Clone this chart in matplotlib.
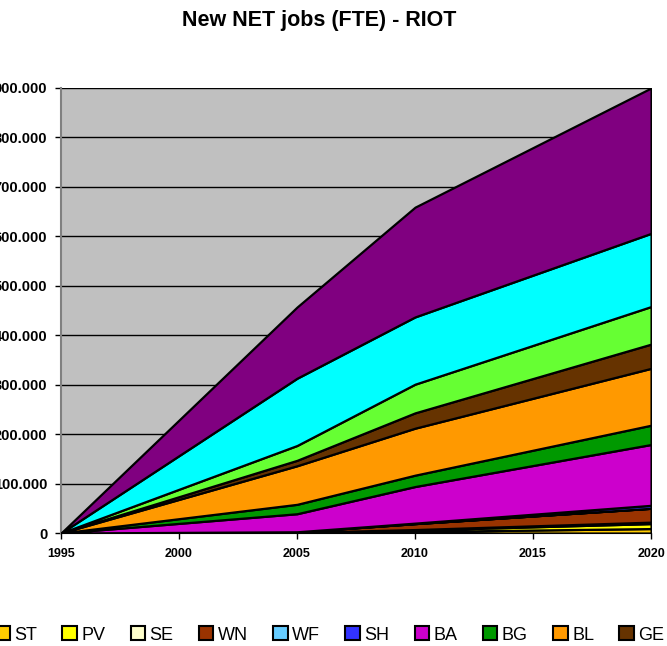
import matplotlib
matplotlib.use("Agg")
import matplotlib.pyplot as plt
from matplotlib.patches import Patch
from matplotlib.ticker import FuncFormatter

plt.rcParams['font.family'] = ['Liberation Sans', 'DejaVu Sans']

years = [1995, 2005, 2010, 2020]

# new net jobs per technology (FTE), stacked bottom -> top
names = ['ST', 'PV', 'SE', 'WN', 'WF', 'SH', 'BA', 'BG', 'BL', 'GE', 'TI', 'WA', 'HY']
ST = [0, 500, 3000, 9000]
PV = [0, 500, 3000, 10000]
SE = [0, 200, 1000, 3000]
WN = [0, 1000, 12000, 28000]
WF = [0, 0, 0, 0]
SH = [0, 300, 1000, 6000]
BA = [0, 36500, 74000, 123000]
BG = [0, 19000, 23000, 39000]
BL = [0, 78000, 95000, 115000]
GE = [0, 11000, 31000, 49000]
TI = [0, 30000, 58000, 76000]
WA = [0, 136000, 136000, 148000]
HY = [0, 144000, 222000, 294000]

colors = ['#FFCC00', '#FFFF00', '#FFFFCC', '#993300', '#66CCFF', '#3333FF',
          '#CC00CC', '#009900', '#FF9900', '#663300', '#66FF33', '#00FFFF', '#800080']

fig = plt.figure(figsize=(6.67, 6.46), dpi=100)
ax = fig.add_axes([0.0915, 0.1749, 0.8846, 0.6889])
ax.set_facecolor('#C0C0C0')

ax.stackplot(years, ST, PV, SE, WN, WF, SH, BA, BG, BL, GE, TI, WA, HY,
             colors=colors, edgecolor='black', linewidth=1.6, zorder=3)

ax.set_xlim(1995, 2020)
ax.set_ylim(0, 900000)
ax.set_xticks(range(1995, 2021, 5))
ax.set_yticks(range(0, 900001, 100000))
ax.yaxis.set_major_formatter(FuncFormatter(lambda v, p: f'{int(v):,}'.replace(',', '.')))
ax.grid(axis='y', color='black', linewidth=1, zorder=1)
ax.set_axisbelow(True)

for lab in ax.get_xticklabels():
    lab.set_fontweight('bold')
    lab.set_fontsize(9)
for lab in ax.get_yticklabels():
    lab.set_fontweight('bold')
    lab.set_fontsize(10.5)
ax.tick_params(axis='both', direction='out', length=4, width=1, color='black')
ax.tick_params(axis='y', pad=6)
ax.tick_params(axis='x', pad=7)

ax.spines['top'].set_visible(False)
ax.spines['right'].set_visible(False)
ax.spines['left'].set_color('#808080')
ax.spines['left'].set_linewidth(1.5)
ax.spines['bottom'].set_color('black')

fig.text(0.478, 0.969, 'New NET jobs (FTE) - RIOT', ha='center', va='center',
         fontsize=15.5, fontweight='bold')

handles = [Patch(facecolor=c, edgecolor='black', linewidth=1.5) for c in colors]
fig.legend(handles, names, ncol=13, loc='center left', bbox_to_anchor=(-0.018, 0.017),
           frameon=False, fontsize=13, handlelength=0.8, handleheight=0.8,
           handletextpad=0.25, columnspacing=1.4, borderaxespad=0)

fig.savefig('out.png', dpi=100)
